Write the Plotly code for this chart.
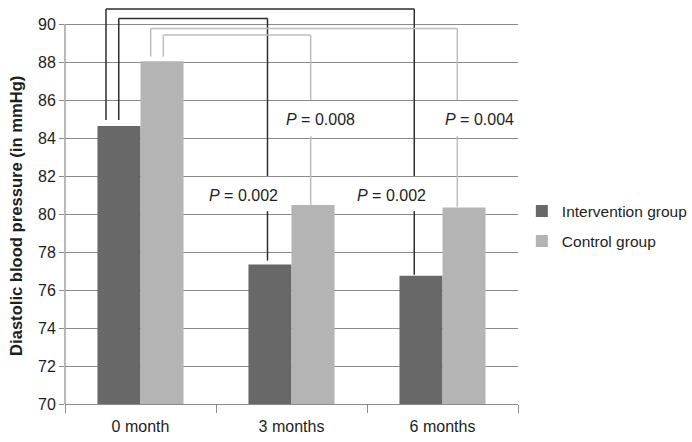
import plotly.graph_objects as go

# ---------------- data ----------------
categories = ["0 month", "3 months", "6 months"]
intervention = [84.63, 77.35, 76.75]
control = [88.04, 80.47, 80.35]
series_names = ["Intervention group", "Control group"]
p_values = ["0.002", "0.008", "0.002", "0.004"]
y_ticks = [70, 72, 74, 76, 78, 80, 82, 84, 86, 88, 90]

# ---------------- style ----------------
DARK = "#686868"
LIGHT = "#b4b4b4"
GRID = "#8a8a8a"
BLACK_LINE = "#2e2e2e"
GRAY_LINE = "#bdbdbd"
TXT = "#1e1e1e"
FONT = "Liberation Sans, Arial, sans-serif"

fig = go.Figure()
fig.add_trace(go.Bar(x=categories, y=intervention, name=series_names[0],
                     marker=dict(color=DARK, line=dict(width=0)),
                     legendgroup="a"))
fig.add_trace(go.Bar(x=categories, y=control, name=series_names[1],
                     marker=dict(color=LIGHT, line=dict(width=0)),
                     legendgroup="b"))

# Brackets: (series values, target category, left x, right x, top level, color,
#            left-leg lift, right-leg lift, break bottom, break top)
brackets = [
    (intervention, 1, -0.144, 1 - 0.159, 90.30, BLACK_LINE, 0.32, 0.20, 80.15, 82.0),
    (intervention, 2, -0.2285, 2 - 0.187, 90.79, BLACK_LINE, 0.32, 0.05, 80.15, 82.0),
    (control, 1, 0.151, 1 + 0.127, 89.42, GRAY_LINE, 0.25, 0.0, 84.1, 86.0),
    (control, 2, 0.0675, 2 + 0.098, 89.77, GRAY_LINE, 0.25, 0.03, 84.1, 86.0),
]

shapes = []
for vals, tgt, xl, xr, top, col, liftl, liftr, b_lo, b_hi in brackets:
    ln = dict(color=col, width=1.5)
    shapes.append(dict(type="line", xref="x", yref="y", x0=xl, x1=xl,
                       y0=vals[0] + liftl, y1=top, line=ln))
    shapes.append(dict(type="line", xref="x", yref="y", x0=xl, x1=xr,
                       y0=top, y1=top, line=ln))
    shapes.append(dict(type="line", xref="x", yref="y", x0=xr, x1=xr,
                       y0=top, y1=b_hi, line=ln))
    shapes.append(dict(type="line", xref="x", yref="y", x0=xr, x1=xr,
                       y0=b_lo, y1=vals[tgt] + liftr, line=ln))

# left axis line (only from 70 to 90)
shapes.append(dict(type="line", xref="paper", yref="y", x0=0, x1=0,
                   y0=y_ticks[0], y1=y_ticks[-1], line=dict(color=GRID, width=1.2),
                   layer="above"))

label_pos = [(0.685, 81.0), (1.192, 85.0), (1.659, 81.0), (2.242, 85.0)]
annotations = []
for (lx, ly), p in zip(label_pos, p_values):
    annotations.append(dict(x=lx, y=ly, xref="x", yref="y",
                            text="<i>P</i> = " + p, showarrow=False,
                            font=dict(size=16, color=TXT, family=FONT)))

annotations.append(dict(x=-0.106, y=79.9, xref="paper", yref="y",
                        xanchor="center", yanchor="middle",
                        text="<b>Diastolic blood pressure (in mmHg)</b>",
                        textangle=-90, showarrow=False,
                        font=dict(size=16.6, color=TXT, family=FONT)))

fig.update_layout(
    width=692, height=442,
    margin=dict(l=65, r=174, t=7, b=38, autoexpand=False),
    paper_bgcolor="white", plot_bgcolor="white",
    barmode="group", bargap=0.43, bargroupgap=0,
    font=dict(family=FONT, size=16, color=TXT),
    shapes=shapes, annotations=annotations,
    legend=dict(x=1.0085, y=0.528, xanchor="left", yanchor="top",
                font=dict(size=15.5, color=TXT, family=FONT),
                tracegroupgap=7, traceorder="grouped",
                bgcolor="rgba(0,0,0,0)"),
    showlegend=True,
)
fig.update_xaxes(type="category", tickson="boundaries", ticks="outside",
                 ticklen=8, tickcolor=GRID, tickwidth=1.2, automargin=False,
                 ticklabelstandoff=8,
                 showline=True, linecolor=GRID, linewidth=1.2,
                 showgrid=False, tickfont=dict(size=16, color=TXT, family=FONT))
fig.update_yaxes(range=[70, 90.9], tickvals=y_ticks, ticks="outside",
                 ticklen=5, tickcolor=GRID, tickwidth=1.2, automargin=False,
                 showgrid=True, gridcolor=GRID, gridwidth=1.2,
                 showline=False, zeroline=False,
                 tickfont=dict(size=16, color=TXT, family=FONT))

fig.write_html("out.html", config={"displayModeBar": False},
               post_script="document.body.style.margin='0';document.body.style.overflow='hidden';")
